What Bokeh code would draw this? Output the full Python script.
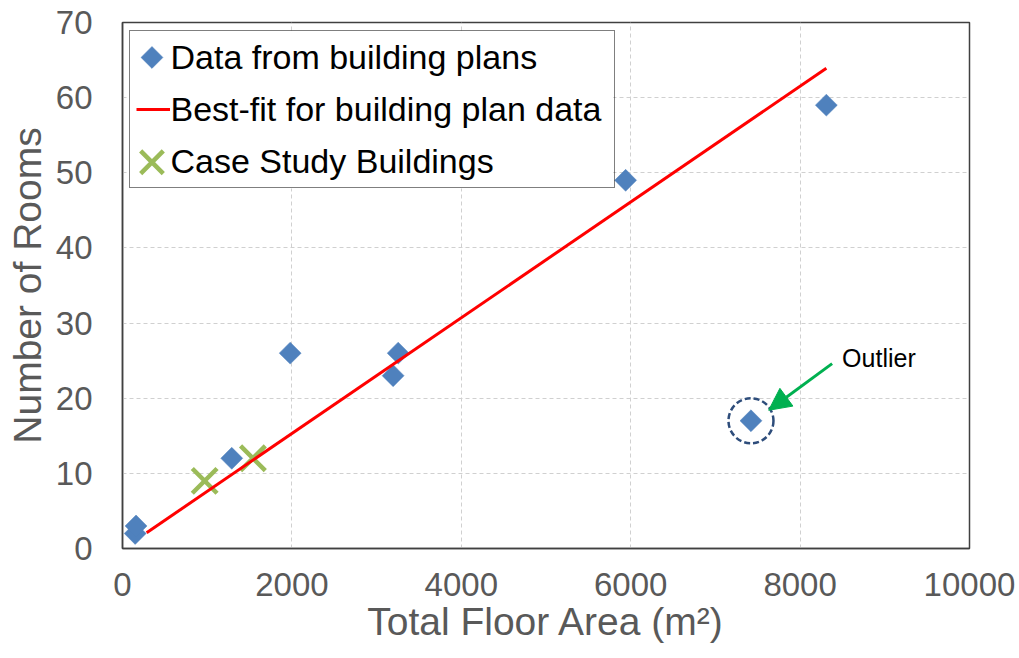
from bokeh.plotting import figure
from bokeh.models import (FixedTicker, Legend, LegendItem, Arrow, NormalHead,
                          Label)
from bokeh.embed import file_html
from bokeh.resources import INLINE
import numpy as np

# Building plan survey: total floor area (m²) vs number of rooms
plan_area = [150, 160, 1290, 1980, 3195, 3255, 5940, 8310, 7420]
plan_rooms = [2, 3, 12, 26, 23, 26, 49, 59, 17]

# Linear best-fit through the building plan data (end points)
fit_area = [285, 8310]
fit_rooms = [2.1, 63.9]

# Case study buildings
case_area = [970, 1540]
case_rooms = [9, 12]

# Highlighted outlier
outlier_area = [7420]
outlier_rooms = [17]

x_ticks = [0, 2000, 4000, 6000, 8000, 10000]
y_ticks = [0, 10, 20, 30, 40, 50, 60, 70]

FONT = "Liberation Sans"
GREY = "#595959"
BLUE = "#4F81BD"
GREEN = "#9BBB59"

p = figure(width=1019, height=658, x_range=(0, 10000), y_range=(0, 70),
           output_backend="svg", toolbar_location=None,
           min_border_left=122, min_border_right=50,
           min_border_top=22, min_border_bottom=110)
p.background_fill_color = "white"
p.border_fill_color = "white"
p.outline_line_color = "#404040"
p.outline_line_width = 1.5

# axes
for ax in (p.xaxis[0], p.yaxis[0]):
    ax.major_tick_out = 0
    ax.major_tick_in = 0
    ax.minor_tick_out = 0
    ax.minor_tick_in = 0
    ax.axis_line_color = "#404040"
    ax.axis_line_width = 1.5
    ax.major_label_text_font = FONT
    ax.major_label_text_font_size = "33px"
    ax.major_label_text_color = GREY
    ax.axis_label_text_font = FONT
    ax.axis_label_text_font_size = "39px"
    ax.axis_label_text_font_style = "normal"
    ax.axis_label_text_color = GREY

p.xaxis.ticker = FixedTicker(ticks=x_ticks)
p.yaxis.ticker = FixedTicker(ticks=y_ticks)
p.xaxis.axis_label = "Total Floor Area (m²)"
p.yaxis.axis_label = "Number of Rooms"
p.xaxis.major_label_standoff = 24
p.yaxis.major_label_standoff = 30
p.xaxis.axis_label_standoff = 1
p.yaxis.axis_label_standoff = 4

# dashed grid
for g in (p.xgrid[0], p.ygrid[0]):
    g.grid_line_color = "#D0D0D0"
    g.grid_line_dash = "4 3"
    g.grid_line_width = 1

# white panel behind the legend (legend itself is transparent)
p.quad(left=[77], right=[5794], bottom=[47.9], top=[68.8],
       fill_color="white", line_color=None)

diamond_style = dict(marker="square", size=15.5, angle=np.pi / 4,
                     fill_color=BLUE, line_color=BLUE, line_width=0.5)
cross_style = dict(marker="x", size=35, line_color=GREEN, line_width=4.5)

plans = p.scatter(plan_area, plan_rooms, **diamond_style)
cases = p.scatter(case_area, case_rooms, **cross_style)
fit = p.line(fit_area, fit_rooms, line_color="#FF0000", line_width=3)

# dashed ring around the outlier
p.scatter(outlier_area, outlier_rooms, marker="circle", size=45,
          fill_color=None, line_color="#2E4D7B", line_width=2.5,
          line_dash="6 3")

# arrow + label
arrow_from = (8378, 24.6)
arrow_to = (7629, 18.4)
p.add_layout(Arrow(x_start=arrow_from[0], y_start=arrow_from[1],
                   x_end=arrow_to[0], y_end=arrow_to[1],
                   line_color="#00B050", line_width=3,
                   end=NormalHead(size=22, fill_color="#00B050",
                                  line_color="#00B050")))
p.add_layout(Label(x=8496, y=25.3, text="Outlier", text_font=FONT,
                   text_font_size="25px", text_color="black",
                   text_baseline="middle", text_align="left"))

# legend keys: rotated square and cross drawn inside the legend panel
key_x = 348
p.scatter([key_x], [65.35], **diamond_style)
p.scatter([key_x], [51.4], **{**cross_style, "size": 32})

# empty placeholder renderers reserve the marker slots in the legend
blank = dict(fill_alpha=0, line_alpha=0)
plans_key = p.scatter([], [], marker="square", **blank)
cases_key = p.scatter([], [], marker="square", **blank)

legend = Legend(items=[
    LegendItem(label="Data from building plans", renderers=[plans_key]),
    LegendItem(label="Best-fit for building plan data", renderers=[fit]),
    LegendItem(label="Case Study Buildings", renderers=[cases_key]),
], location=(6.5, 360))
legend.label_text_font = FONT
legend.label_text_font_size = "34px"
legend.label_text_color = "black"
legend.border_line_color = "black"
legend.border_line_width = 1
legend.background_fill_alpha = 0
legend.padding = 6
legend.spacing = 12
legend.margin = 0
legend.glyph_width = 34
legend.glyph_height = 40
legend.label_height = 40
legend.label_standoff = 1
legend.label_width = 437
p.add_layout(legend)

open("out.html", "w").write(file_html(p, INLINE))
